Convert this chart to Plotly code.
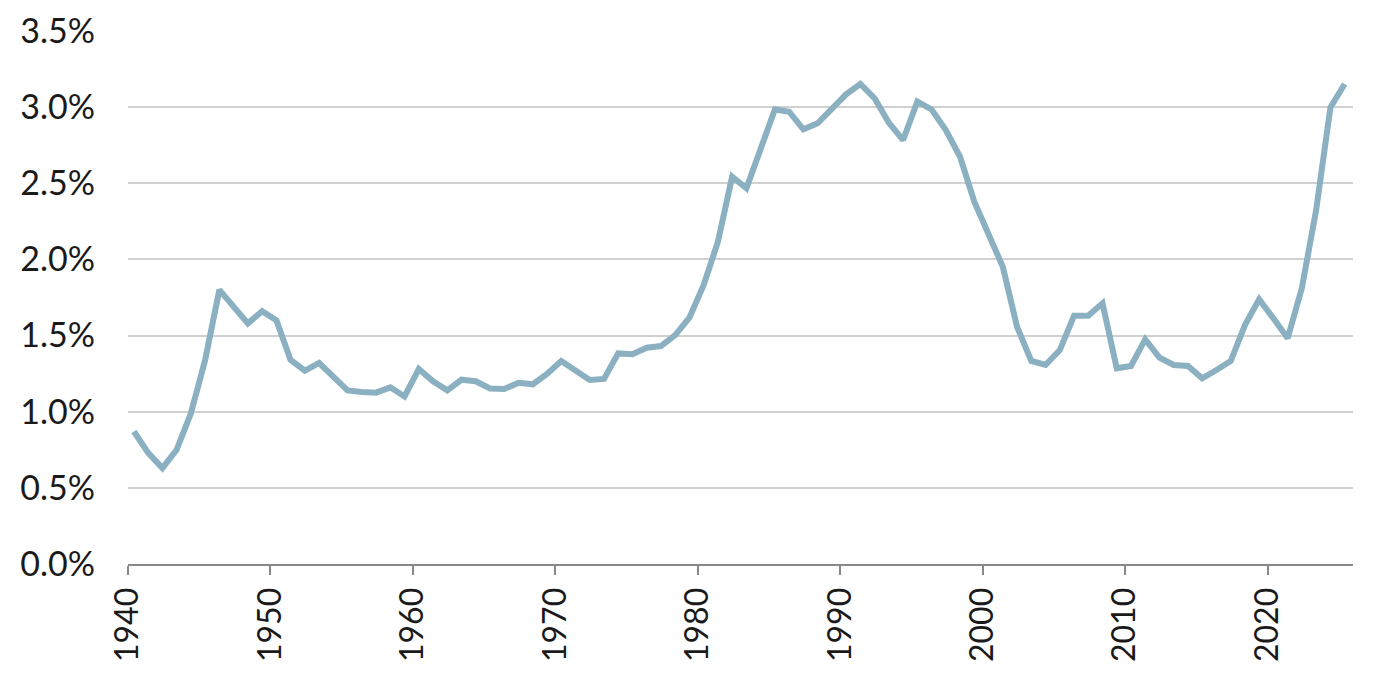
import plotly.graph_objects as go

################################
# Data: annual values, 1940-2025 (percent)
years = list(range(1940, 2026))
values = [
    0.87, 0.73, 0.63, 0.75, 0.99, 1.34, 1.80, 1.69, 1.58, 1.66,
    1.60, 1.34, 1.27, 1.32, 1.23, 1.14, 1.13, 1.125, 1.16, 1.10,
    1.28, 1.20, 1.14, 1.21, 1.20, 1.153, 1.149, 1.19, 1.18, 1.248,
    1.333, 1.267, 1.208, 1.215, 1.383, 1.377, 1.42, 1.431, 1.503, 1.618,
    1.832, 2.116, 2.543, 2.467, 2.74, 2.985, 2.97, 2.854, 2.894, 2.985,
    3.084, 3.152, 3.058, 2.898, 2.784, 3.036, 2.985, 2.85, 2.674, 2.379,
    2.171, 1.952, 1.558, 1.333, 1.307, 1.405, 1.63, 1.63, 1.712, 1.285,
    1.30, 1.475, 1.355, 1.307, 1.30, 1.219, 1.274, 1.333, 1.569, 1.738,
    1.613, 1.482, 1.814, 2.324, 2.998, 3.152,
]
tick_years = list(range(1940, 2030, 10))

# points sit at mid fiscal year, ticks at the start of each decade
x_dates = ["%d-06-01" % y for y in years]

fig = go.Figure()
fig.add_trace(
    go.Scatter(
        x=x_dates,
        y=[v / 100 for v in values],
        mode="lines",
        line=dict(color="#8ab0c1", width=6),
        hoverinfo="skip",
    )
)

font_family = "Lato, 'Open Sans', sans-serif"

# page body adds an 8px offset, margins account for it
fig.update_layout(
    width=1380,
    height=675,
    margin=dict(l=120, r=35, t=23, b=119),
    plot_bgcolor="white",
    paper_bgcolor="white",
    showlegend=False,
    font=dict(family=font_family, size=32, color="#1a1a1a"),
    xaxis=dict(
        type="date",
        range=["1940-01-01", "2026-01-01"],
        tickvals=["%d-01-01" % y for y in tick_years],
        ticktext=[str(y) for y in tick_years],
        tickangle=-90,
        ticks="outside",
        ticklen=9,
        tickwidth=2,
        tickcolor="#888888",
        showline=True,
        linecolor="#888888",
        linewidth=2,
        showgrid=False,
        zeroline=False,
        automargin=False,
        tickfont=dict(size=32),
    ),
    yaxis=dict(
        range=[0, 0.035],
        tickvals=[i * 0.005 for i in range(8)],
        tickformat=".1%",
        showgrid=True,
        gridcolor="#d0d0d0",
        gridwidth=2,
        zeroline=False,
        showline=False,
        ticks="",
        ticklabelstandoff=32,
        automargin=False,
        tickfont=dict(size=34),
    ),
)

fig.write_html("out.html")
